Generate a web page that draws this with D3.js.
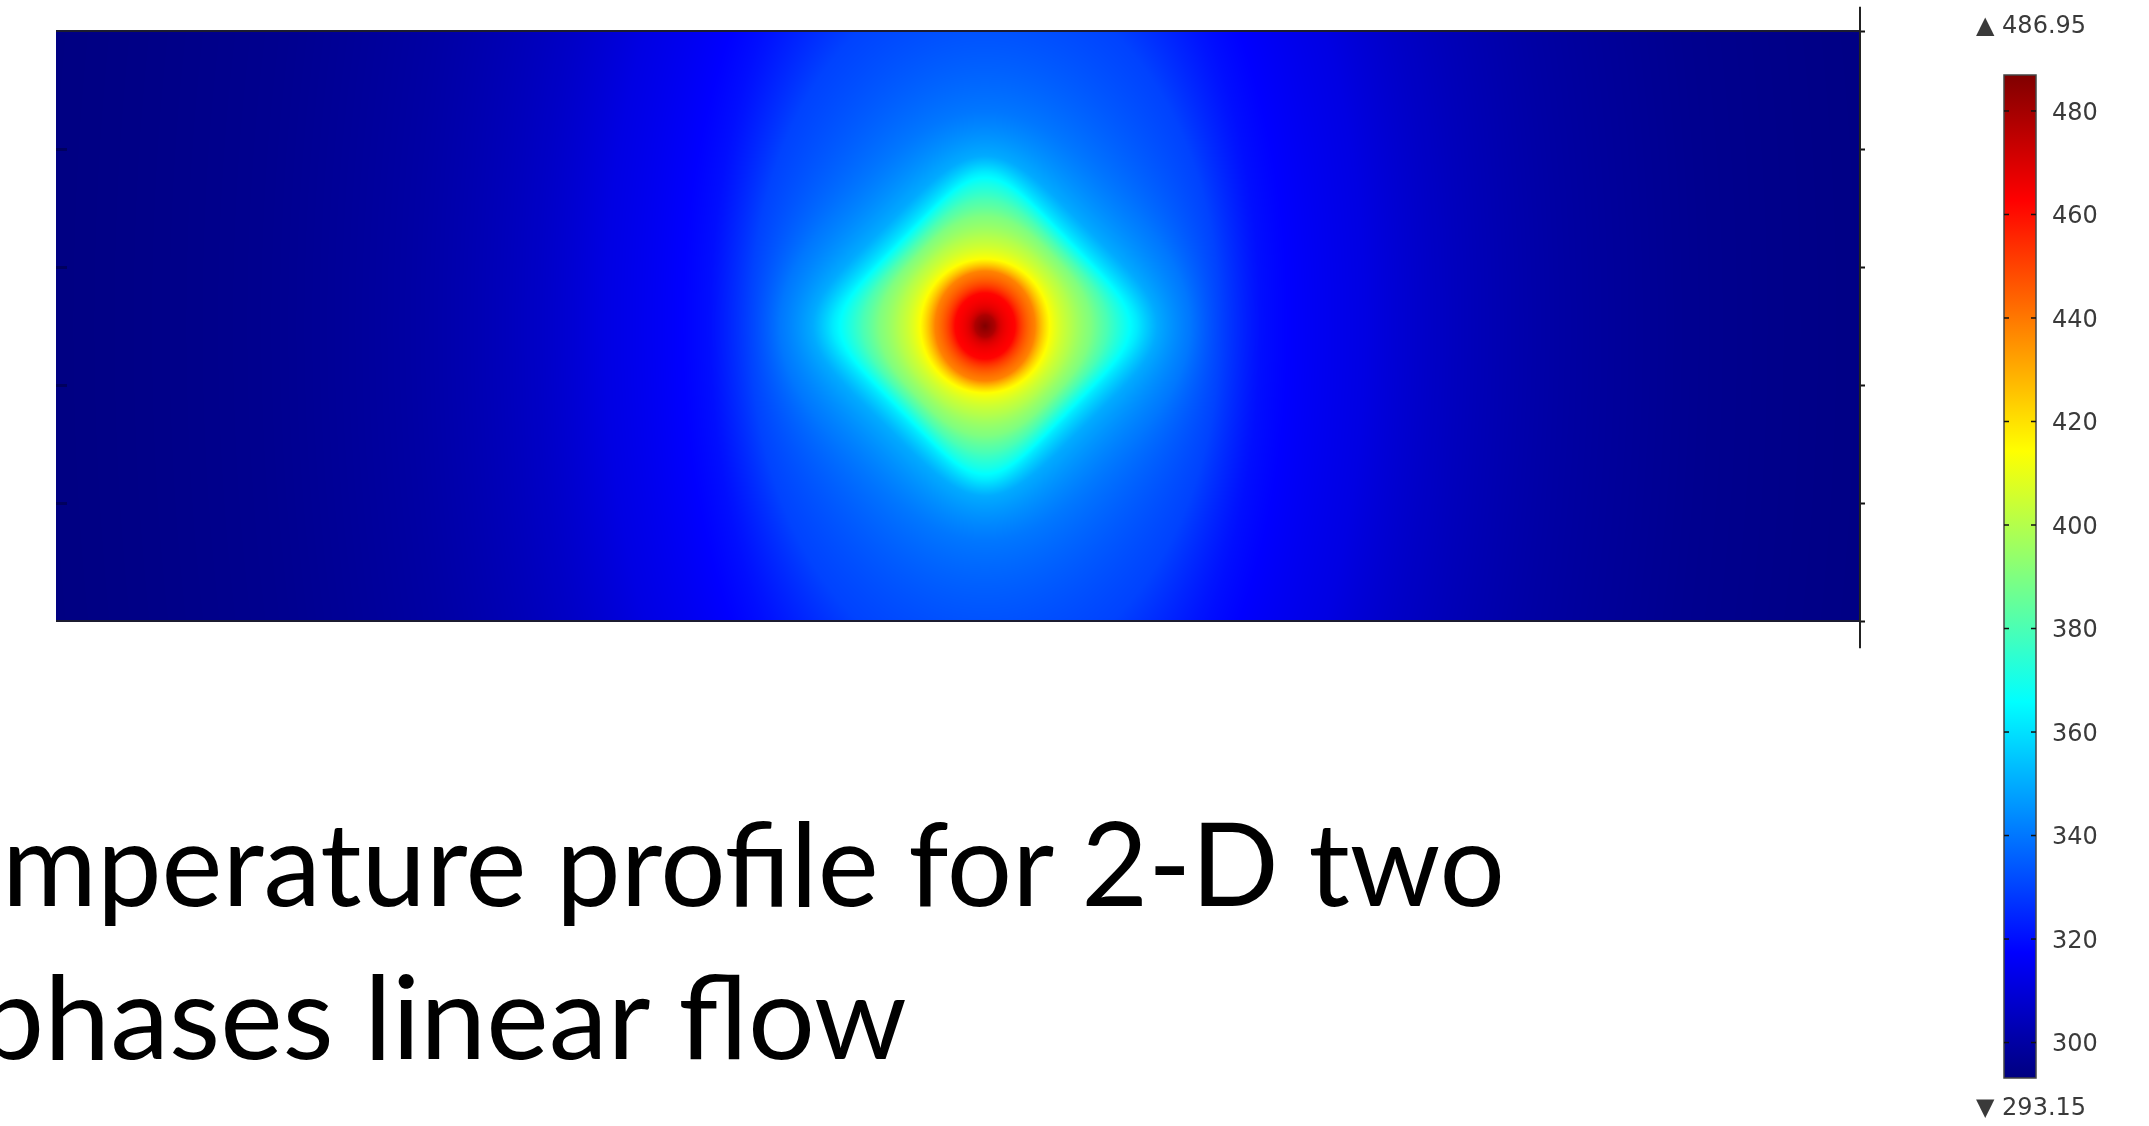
<!DOCTYPE html>
<html>
<head>
<meta charset="utf-8">
<script src="https://cdn.jsdelivr.net/npm/d3@7"></script>
<style>
  html, body { margin: 0; padding: 0; background: #fff; }
  #wrap { position: relative; width: 2149px; height: 1126px; overflow: hidden; background: #fff; }
  #wrap canvas, #wrap svg { position: absolute; left: 0; top: 0; }
</style>
</head>
<body>
<div id="wrap">
  <canvas id="field" width="2149" height="1126"></canvas>
  <svg id="chart" width="2149" height="1126"></svg>
</div>
<script>
// Channel geometry (m) and heat source position
const xDomain = [0, 3];
const yDomain = [0, 1];
const heatSource = [1.545, 0.5];

// Isotherms (K), from the hot spot outwards
const isoLevels     = [486.95, 478,   462,   438,   414,   400,   390,   380,   370,   362,   350,   340,   330,   320,   312,   305,   300,   296,   293.15];
// horizontal half-extent of each isotherm around the source (m)
const isoHalfWidth  = [0,      0.017, 0.050, 0.083, 0.108, 0.143, 0.176, 0.203, 0.229, 0.253, 0.286, 0.341, 0.391, 0.457, 0.632, 0.782, 0.951, 1.197, 1.663];
// vertical half-extent of each isotherm (m)
const isoHalfHeight = [0,      0.019, 0.056, 0.093, 0.114, 0.151, 0.186, 0.214, 0.241, 0.261, 0.288, 0.364, 0.593, 0.847, 1.119, 1.390, 1.695, 2.203, 3.051];
// isotherm squareness (2 = ellipse, larger = rounded diamond)
const isoShape      = [2,      2,     2,     2,     2,     2.3,   2.8,   3.5,   4.5,   5.5,   4.5,   3,     2,     2,     2,     2,     2,     2,     2];

// Colour legend
const tempRange = [293.15, 486.95];
const legendTicks = [300, 320, 340, 360, 380, 400, 420, 440, 460, 480];
const axisTicks = [0, 0.2, 0.4, 0.6, 0.8, 1.0];
const titleLines = ["Temperature profile for 2-D two", "phases linear flow"];

// ---------- layout ----------
const plot = { left: 56, right: 1860, top: 31, bottom: 621 };
const bar = { left: 2004, right: 2036, top: 75, bottom: 1078 };

const xScale = d3.scaleLinear().domain(xDomain).range([plot.left, plot.right]);
const yScale = d3.scaleLinear().domain(yDomain).range([plot.bottom, plot.top]);
const barScale = d3.scaleLinear().domain(tempRange).range([bar.bottom, bar.top]);

// jet colour map over the temperature range
const jetStops = [0, 0.125, 0.375, 0.625, 0.875, 1];
const jetColors = ["#000080", "#0000ff", "#00ffff", "#ffff00", "#ff0000", "#800000"];
const color = d3.scaleLinear()
  .domain(jetStops.map(t => tempRange[0] + t * (tempRange[1] - tempRange[0])))
  .range(jetColors)
  .interpolate(d3.interpolateRgb)
  .clamp(true);

// normalised distance of a point to isotherm k (<= 1 means inside)
const isoNorm = isoShape.map(q => Math.SQRT2 / Math.pow(2, 1 / q));
function isoDist(k, dx, dy) {
  const q = isoShape[k];
  const X = dx / isoHalfWidth[k], Y = dy / isoHalfHeight[k];
  if (q === 2) return Math.sqrt(X * X + Y * Y);
  // rounded diamond: squircle in the 45-degree rotated frame
  const U = (X + Y) * Math.SQRT1_2, V = Math.abs(X - Y) * Math.SQRT1_2;
  return Math.pow(Math.pow(U, q) + Math.pow(V, q), 1 / q) * isoNorm[k];
}

// temperature between the two isotherms that bracket the point
function temperatureAt(x, y) {
  const dx = Math.abs(x - heatSource[0]);
  const dy = Math.abs(y - heatSource[1]);
  const n = isoLevels.length;
  let prevR = null;
  for (let k = 1; k < n; k++) {
    const r = isoDist(k, dx, dy);
    if (r <= 1) {
      if (k === 1) return isoLevels[0] + (isoLevels[1] - isoLevels[0]) * r;
      const f = (prevR - 1) / ((prevR - 1) + (1 - r));
      return isoLevels[k - 1] + f * (isoLevels[k] - isoLevels[k - 1]);
    }
    prevR = r;
  }
  return isoLevels[n - 1];
}

// ---------- temperature field ----------
(function drawField() {
  const canvas = document.getElementById("field");
  const ctx = canvas.getContext("2d");
  const x0 = Math.round(plot.left), x1 = Math.round(plot.right);
  const y0 = Math.round(plot.top), y1 = Math.round(plot.bottom);
  const w = x1 - x0, h = y1 - y0;
  const img = ctx.createImageData(w, h);
  // colour lookup table
  const N = 2048, lut = new Uint8ClampedArray(N * 3);
  for (let i = 0; i < N; i++) {
    const c = d3.rgb(color(tempRange[0] + (i / (N - 1)) * (tempRange[1] - tempRange[0])));
    lut[i * 3] = c.r; lut[i * 3 + 1] = c.g; lut[i * 3 + 2] = c.b;
  }
  for (let j = 0; j < h; j++) {
    const y = yScale.invert(y0 + j + 0.5);
    for (let i = 0; i < w; i++) {
      const x = xScale.invert(x0 + i + 0.5);
      const T = temperatureAt(x, y);
      let idx = Math.round((T - tempRange[0]) / (tempRange[1] - tempRange[0]) * (N - 1));
      idx = Math.max(0, Math.min(N - 1, idx));
      const o = (j * w + i) * 4;
      img.data[o] = lut[idx * 3];
      img.data[o + 1] = lut[idx * 3 + 1];
      img.data[o + 2] = lut[idx * 3 + 2];
      img.data[o + 3] = 255;
    }
  }
  ctx.putImageData(img, x0, y0);
})();

// ---------- overlay ----------
const svg = d3.select("#chart");

// channel walls
svg.append("g").selectAll("line").data(yDomain).join("line")
  .attr("x1", xScale(xDomain[0])).attr("x2", xScale(xDomain[1]))
  .attr("y1", d => yScale(d)).attr("y2", d => yScale(d))
  .attr("stroke", "#1c1c30").attr("stroke-width", 2);

// right-hand axis
const axisG = svg.append("g")
  .attr("transform", `translate(${xScale(xDomain[1])},0)`)
  .call(d3.axisRight(yScale).tickValues(axisTicks).tickSize(5).tickSizeOuter(0).tickFormat(""));
axisG.select(".domain").remove();
axisG.selectAll(".tick line").attr("stroke", "#111").attr("stroke-width", 2);
axisG.append("line")
  .attr("x1", 0).attr("x2", 0)
  .attr("y1", yScale(-0.046)).attr("y2", yScale(1.041))
  .attr("stroke", "#222").attr("stroke-width", 2);

// inner ticks along the left wall
const leftG = svg.append("g")
  .attr("transform", `translate(${xScale(xDomain[0])},0)`)
  .call(d3.axisLeft(yScale).tickValues(axisTicks.slice(1, -1)).tickSize(-11).tickSizeOuter(0).tickFormat(""));
leftG.select(".domain").remove();
leftG.selectAll(".tick line").attr("stroke", "#000030").attr("stroke-width", 3).attr("stroke-opacity", 0.45);

// ---------- colour legend ----------
const defs = svg.append("defs");
const grad = defs.append("linearGradient").attr("id", "jetGrad")
  .attr("x1", 0).attr("y1", 1).attr("x2", 0).attr("y2", 0);
d3.range(0, 1.0001, 1 / 48).forEach(t => {
  const v = tempRange[0] + t * (tempRange[1] - tempRange[0]);
  grad.append("stop").attr("offset", t).attr("stop-color", color(v));
});
svg.append("rect")
  .attr("x", bar.left).attr("y", barScale(tempRange[1]))
  .attr("width", bar.right - bar.left).attr("height", barScale(tempRange[0]) - barScale(tempRange[1]))
  .attr("fill", "url(#jetGrad)").attr("stroke", "#444").attr("stroke-width", 1.5);

const legendG = svg.append("g");
legendG.selectAll("line.tl").data(legendTicks).join("line").attr("class", "tl")
  .attr("x1", bar.left).attr("x2", bar.left + 5)
  .attr("y1", d => barScale(d)).attr("y2", d => barScale(d))
  .attr("stroke", "#111").attr("stroke-width", 1.5);
legendG.selectAll("line.tr").data(legendTicks).join("line").attr("class", "tr")
  .attr("x1", bar.right - 5).attr("x2", bar.right)
  .attr("y1", d => barScale(d)).attr("y2", d => barScale(d))
  .attr("stroke", "#111").attr("stroke-width", 1.5);
legendG.selectAll("text").data(legendTicks).join("text")
  .attr("x", bar.right + 16).attr("y", d => barScale(d))
  .attr("dy", "0.36em")
  .attr("font-family", "DejaVu Sans, sans-serif").attr("font-size", 24)
  .attr("fill", "#3a3a3a")
  .text(d => d);

// extreme values
svg.append("text")
  .attr("x", 1976).attr("y", 33)
  .attr("font-family", "DejaVu Sans, sans-serif").attr("font-size", 24).attr("fill", "#3a3a3a")
  .text("\u25B2 " + tempRange[1].toFixed(2));
svg.append("text")
  .attr("x", 1976).attr("y", 1115)
  .attr("font-family", "DejaVu Sans, sans-serif").attr("font-size", 24).attr("fill", "#3a3a3a")
  .text("\u25BC " + tempRange[0].toFixed(2));

// ---------- title ----------
const titleFont = "Lato, 'Open Sans', sans-serif";
const t1 = svg.append("text")
  .attr("x", 0).attr("y", 906)
  .attr("font-family", titleFont).attr("font-size", 116.5).attr("fill", "#000")
  .text(titleLines[0]);
const t2 = svg.append("text")
  .attr("x", 0).attr("y", 1059)
  .attr("font-family", titleFont).attr("font-size", 116.5).attr("fill", "#000")
  .text(titleLines[1]);

// line 1: "m" starts at the page edge, "two" ends at x = 1505
(function fitLine1() {
  const node = t1.node();
  const W = node.getComputedTextLength();
  const P = node.getSubStringLength(0, 2);
  const k = (1505 - 2) / (W - P);
  t1.attr("textLength", W * k).attr("lengthAdjust", "spacingAndGlyphs")
    .attr("x", 2 - P * k);
})();
// line 2: runs from just left of the page edge to x = 907
(function fitLine2() {
  const start = -22;
  t2.attr("x", start).attr("textLength", 907 - start).attr("lengthAdjust", "spacingAndGlyphs");
})();
</script>
</body>
</html>
